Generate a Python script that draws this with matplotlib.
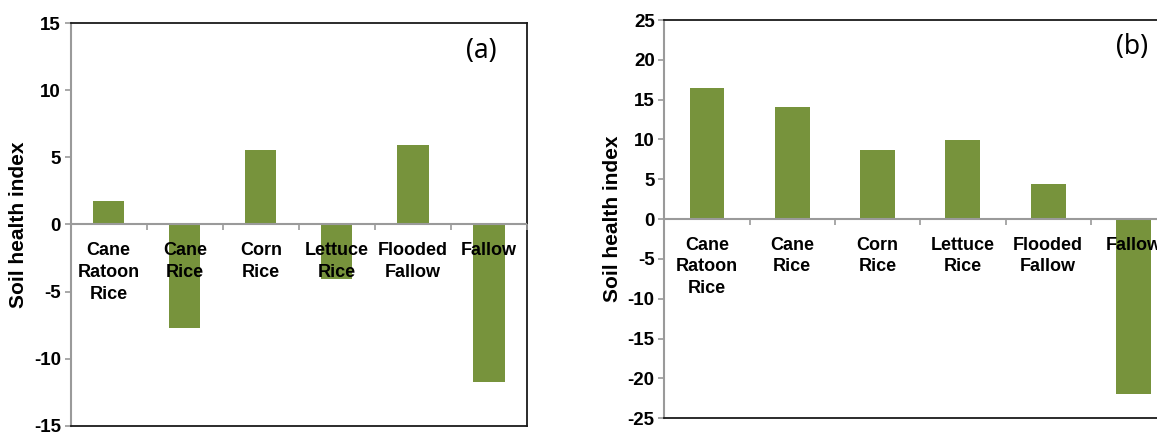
import matplotlib
matplotlib.use("Agg")
import matplotlib.pyplot as plt
import numpy as np

categories = ["Cane\nRatoon\nRice", "Cane\nRice", "Corn\nRice", "Lettuce\nRice", "Flooded\nFallow", "Fallow"]
values_a = [1.78, -7.7, 5.55, -4.03, 5.93, -11.73]
values_b = [16.5, 14.1, 8.62, 9.92, 4.44, -21.97]
yticks_a = [-15, -10, -5, 0, 5, 10, 15]
yticks_b = [-25, -20, -15, -10, -5, 0, 5, 10, 15, 20, 25]
panel_labels = ["(a)", "(b)"]

BAR = "#77933C"
GRAY = "#9A9A9A"
FONT = "Liberation Sans"

fig = plt.figure(figsize=(11.57, 4.32), dpi=100)
ax_a = fig.add_axes([0.0611, 0.01458, 0.3944, 0.9315])
ax_b = fig.add_axes([0.5742, 0.0317, 0.4423, 0.922])


def draw(ax, vals, yticks, plabel, pxy):
    x = np.arange(len(categories))
    ax.bar(x, vals, width=0.41, color=BAR, zorder=2)
    ax.set_xlim(-0.5, len(categories) - 0.5)
    ax.set_ylim(yticks[0], yticks[-1])
    ax.set_yticks(yticks)
    ax.set_yticklabels([str(t) for t in yticks], fontsize=13.5, fontweight="bold", family=FONT)
    ax.tick_params(axis="y", direction="out", length=4, width=1.2, color=GRAY, pad=3)
    ax.set_xticks([])
    for s in ["top", "right", "bottom"]:
        ax.spines[s].set_color("#1a1a1a")
        ax.spines[s].set_linewidth(1.3)
    ax.spines["left"].set_color(GRAY)
    ax.spines["left"].set_linewidth(1.5)
    # zero axis line
    ax.axhline(0, color=GRAY, lw=1.5, zorder=3)
    bounds = np.arange(len(categories) + 1) - 0.5
    ax.plot(bounds[1:], np.zeros(len(bounds) - 1), linestyle="none", marker=3,
            markersize=4, markeredgewidth=1.2, color=GRAY, zorder=3, clip_on=False)
    for i, lab in enumerate(categories):
        ax.annotate(lab, xy=(i, 0), xytext=(0, -12.5), textcoords="offset points",
                    ha="center", va="top", fontsize=13, fontweight="bold", family=FONT,
                    linespacing=1.38, zorder=4, annotation_clip=False)
    ax.set_ylabel("Soil health index", fontsize=15, fontweight="bold", family=FONT, labelpad=4)
    ax.text(pxy[0], pxy[1], plabel, transform=ax.transAxes, ha="center", va="center",
            fontsize=19, family="Noto Sans")


draw(ax_a, values_a, yticks_a, panel_labels[0], (0.9007, 0.932))
draw(ax_b, values_b, yticks_b, panel_labels[1], (0.913, 0.931))

fig.savefig("out.png", dpi=100)
